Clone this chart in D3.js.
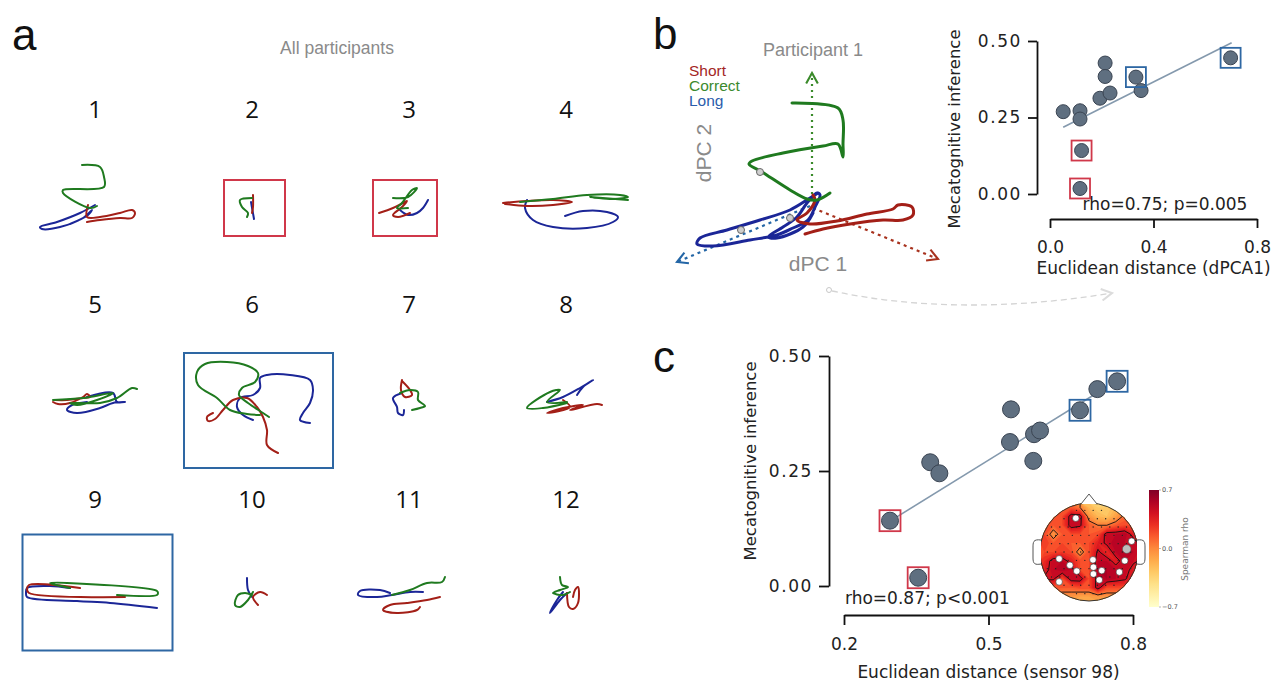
<!DOCTYPE html>
<html><head><meta charset="utf-8">
<script src="https://cdn.jsdelivr.net/npm/d3@7"></script>
<style>html,body{margin:0;padding:0;background:#fff;}svg{display:block;}</style>
</head><body>
<svg id="fig" width="1276" height="684"></svg>
<script>
// ================= DATA =================
const participants = [1,2,3,4,5,6,7,8,9,10,11,12];
const conditions = ["Short","Correct","Long"];
// Panel a: dPC1/dPC2 trajectories per participant
const shortTraj = [
  [[-7,0],[-8,-12],[5,-12],[25,-8],[37,-5],[40,-8],[37,-13],[25,-13],[5,-15],[-8,-17]],
  [[1,10],[1,-2],[0,-8]],
  [[-30,-8],[-16,-3],[-6,2],[-2,4],[-7,-2],[-16,-10],[-11,-12],[1,-8]],
  [[-63,2],[-39,4],[-13,5],[6,3],[-13,0],[-39,-1],[-61,1]],
  [[-42,-4],[-37,-6],[-25,-5],[-12,1],[-8,4],[-5,1],[-12,0],[-28,-2],[-40,-2]],
  [[-39,-15],[-45,-19],[-44,-23],[-37,-21],[-29,-12],[-19,-2],[-5,0],[5,-9],[11,-19],[15,-32],[15,-47],[26,-55]],
  [[-7,18],[-8,8],[-4,1],[3,3],[1,8],[-7,17]],
  [[-3,-2],[4,-9],[-19,-15],[-3,-10],[17,-7],[4,-12],[31,-6],[36,-7]],
  [[-15,5],[-66,8],[-68,4],[-66,0],[30,-4]],
  [[15,-2],[8,1],[1,-4],[6,-12]],
  [[31,-4],[18,-7],[-2,-10],[-19,-12],[-26,-17],[-12,-20],[8,-17],[11,-14]],
  [[1,0],[3,-14],[7,-16],[12,-10],[12,6],[9,3],[7,-4]]
];
const correctTraj = [
  [[-13,40],[5,38],[9,28],[9,18],[-32,15],[-32,12],[-5,-3],[2,-1]],
  [[0,7],[-12,5],[-10,-2],[-4,-8],[-5,-12]],
  [[-16,7],[-1,8],[8,17],[3,15],[-7,2],[-12,-3],[-1,-3]],
  [[-46,3],[-13,6],[21,10],[54,10],[62,8],[47,6],[24,8],[62,5]],
  [[-42,-2],[-12,0],[18,5],[2,-2],[-18,-7],[-25,-5],[5,-5],[22,0],[37,10],[42,9]],
  [[17,-19],[11,-15],[-4,-5],[-13,3],[-10,10],[3,16],[6,25],[-4,32],[-25,36],[-47,34],[-55,26],[-54,13],[-35,0],[-22,-12],[-5,-16],[8,-17]],
  [[-9,5],[1,8],[9,6],[9,-2],[16,-8],[11,-10],[3,-12]],
  [[1,-4],[-19,-4],[-6,8],[-16,6],[-39,-10],[-23,-10],[1,-5]],
  [[-25,5],[-45,10],[-28,10],[62,2],[63,0],[62,-2],[22,-2]],
  [[0,-2],[-7,0],[-14,-2],[-17,-12],[-12,-14],[-4,-7],[1,1]],
  [[-17,-2],[1,3],[18,10],[33,11],[36,16]],
  [[-6,16],[-4,8],[2,6],[-6,3],[-13,0],[-3,-2],[4,1]]
];
const longTraj = [
  [[0,0],[-15,-8],[-38,-17],[-55,-22],[-53,-24],[-35,-22],[-12,-13],[-3,-5],[-7,-10],[-25,-19]],
  [[-1,3],[2,-14]],
  [[-9,-5],[-1,-10],[8,-8],[14,-3],[19,5]],
  [[-39,5],[-41,-3],[-33,-15],[-13,-22],[21,-23],[47,-17],[52,-12],[41,-7],[17,-6],[-1,-11]],
  [[-8,1],[18,5],[22,-4],[30,-4],[18,-5],[5,-10],[-18,-15],[-28,-12],[-23,-7],[-8,-4]],
  [[1,-22],[-9,-17],[-15,-9],[-12,0],[1,3],[8,10],[8,20],[15,23],[38,23],[58,18],[61,8],[58,-5],[51,-15],[48,-22],[58,-25]],
  [[-7,5],[-16,0],[-12,-9],[-11,-15],[-6,-17],[-5,-12]],
  [[-19,-4],[-3,1],[14,10],[27,18],[17,11],[11,3]],
  [[-25,5],[-45,7],[-68,5],[-69,0],[-68,-4],[-18,-8],[15,-10],[62,-15]],
  [[-5,15],[-4,3],[0,-4]],
  [[14,1],[1,1],[-17,-2],[-32,-4],[-51,-2],[-49,2],[-29,3],[-19,0]],
  [[-3,1],[-9,-7],[-16,-20],[-6,-7],[1,0]]
];
const redFlagged = [2,3];
const blueFlagged = [6,9];

// Panel b (left): participant 1 trajectories
const p1Short = [[1,10],[3,5],[-5,-8],[-15,-15],[-2,-19],[25,-16],[55,-9],[81,-4],[86,0],[100,-2],[101,-10],[91,-15],[71,-15],[38,-19],[11,-24],[-7,-29]];
const p1Correct = [[18,12],[5,5],[-5,6],[-22,15],[-50,33],[-63,41],[-60,44],[-29,52],[11,59],[26,61],[31,48],[31,61],[31,85],[26,97],[-20,102]];
const p1Long = [[6,12],[-2,7],[-22,-5],[-52,-15],[-85,-25],[-112,-33],[-115,-39],[-99,-41],[-62,-35],[-35,-30],[-19,-23],[-4,-15],[3,-2],[8,10],[5,12],[-5,2],[-15,-12],[-29,-22],[-44,-32],[-35,-33],[-9,-22],[1,-8]];
const p1Markers = [[-52,33],[-22,-13],[-71,-25]];
const axisShort = [[1,-3],[126,-54]];
const axisCorrect = [[0,5],[0,132]];
const axisLong = [[-2,-1],[-135,-57]];

// Scatter data (per participant)
const metacog      = [0.269,0.018,0.142,0.272,0.245,0.382,0.313,0.428,0.445,0.384,0.330,0.338];
const distDPCA1    = [0.051,0.116,0.122,0.116,0.116,0.332,0.193,0.213,0.698,0.213,0.232,0.352];
const distSensor98 = [0.379,0.354,0.2955,0.593,0.398,0.690,0.5446,0.726,0.767,0.5467,0.5945,0.607];
const fitB = [[0.051,0.218],[0.702,0.494]];
const fitC = [[0.2955,0.141],[0.726,0.420]];
const statsB = "rho=0.75; p=0.005";
const statsC = "rho=0.87; p<0.001";
const ticksBx = [0,0.4,0.8], ticksBy = [0,0.25,0.5];
const ticksCx = [0.2,0.5,0.8], ticksCy = [0,0.25,0.5];

// Topomap (Spearman rho, rows front->back)
const topoGrid = [
  [0.10,0.10,0.10,0.15,0.05,-0.20,-0.30,-0.30,-0.20,-0.05,0.05],
  [0.15,0.20,0.20,0.50,0.50,-0.05,-0.20,-0.25,-0.10,0.10,0.15],
  [0.20,0.15,0.20,0.50,0.45,0.15,0.05,0.05,0.15,0.20,0.20],
  [0.20,-0.05,0.15,0.20,0.20,0.15,0.20,0.50,0.50,0.55,0.35],
  [0.25,0.15,0.20,0.15,0.15,0.20,0.35,0.45,0.55,0.50,0.50],
  [0.20,0.20,0.25,0.20,-0.05,0.20,0.45,0.30,0.50,0.55,0.50],
  [0.30,0.50,0.50,0.35,0.20,0.20,0.50,0.50,0.35,0.50,0.45],
  [0.35,0.50,0.55,0.50,0.20,0.20,0.55,0.55,0.50,0.50,0.35],
  [0.45,0.45,0.20,0.50,0.50,0.20,0.50,0.55,0.50,0.45,0.30],
  [0.20,0.20,0.15,0.15,0.20,0.20,0.50,0.20,0.20,0.20,0.15],
  [0.00,-0.05,-0.05,-0.05,-0.10,-0.10,-0.05,-0.05,-0.05,-0.05,0.00]
];
const sigSensors = [[-0.27,-0.69],[0.87,-0.22],[-0.61,0.14],[-0.39,0.27],[-0.25,0.39],[-0.61,0.61],[0.08,0.16],[0.09,0.31],[0.09,0.45],[0.26,0.38],[0.21,0.57],[0.62,0.41],[0.73,0.18]];
const markedSensor = [[0.77,-0.06]];
const contourLevels = [0.05,0.42];
const cbarTicks = [0.7,0.0,-0.7];

// ================= STYLE / LAYOUT =================
const RED="#a31f17", GREEN="#1f7a1f", BLUE="#1b2697";
const BOXRED="#d0384a", BOXBLUE="#2e67a3";
const SANS="'Liberation Sans', Arial, Helvetica, sans-serif";
const DV="'DejaVu Sans', sans-serif";
const OS="'Open Sans', sans-serif";
const colX=[95,252,409,566], rowY=[205,398,593], labelY=[118,313,508];
const boxes={2:[2.5,3,61,56],3:[-4,3,64,56],6:[6.5,12.5,149,115],9:[2.5,-0.5,150,116]};

const svg=d3.select("#fig");

// panel letters
[["a",12,50],["b",653,49],["c",653,372]].forEach(([t,x,y])=>{
  svg.append("text").attr("x",x).attr("y",y).text(t)
    .attr("font-family",SANS).attr("font-size",44).attr("fill","#111");
});

// ================= PANEL A =================
svg.append("text").attr("x",337).attr("y",54).attr("text-anchor","middle")
  .attr("font-family",SANS).attr("font-size",17.5).attr("fill","#8a8a8a").text("All participants");

const lineGen=(xs,ys,curve)=>d3.line().x(d=>xs(d[0])).y(d=>ys(d[1])).curve(curve||d3.curveCatmullRom.alpha(0.5));

participants.forEach((p,i)=>{
  const cx=colX[i%4], cy=rowY[Math.floor(i/4)];
  const xs=d3.scaleLinear().domain([-100,100]).range([cx-100,cx+100]);
  const ys=d3.scaleLinear().domain([-100,100]).range([cy+100,cy-100]);
  const g=svg.append("g");
  g.append("text").attr("x",cx).attr("y",labelY[Math.floor(i/4)]).attr("text-anchor","middle")
   .attr("font-family",OS).attr("font-size",24).attr("fill","#111").text(p);
  if(boxes[p]){
    const [dx,dy,w,h]=boxes[p];
    g.append("rect").attr("x",cx+dx-w/2).attr("y",cy+dy-h/2).attr("width",w).attr("height",h)
     .attr("fill","none").attr("stroke",redFlagged.includes(p)?BOXRED:BOXBLUE).attr("stroke-width",2);
  }
  [[longTraj[i],BLUE],[shortTraj[i],RED],[correctTraj[i],GREEN]].forEach(([pts,c])=>{
    g.append("path").datum(pts).attr("d",lineGen(xs,ys)).attr("fill","none").attr("stroke",c)
     .attr("stroke-width",2).attr("stroke-linejoin","round").attr("stroke-linecap","round");
  });
});

// ================= PANEL B (left) =================
const defs=svg.append("defs");
function arrowMarker(id,color){
  defs.append("marker").attr("id",id).attr("markerUnits","userSpaceOnUse")
   .attr("markerWidth",14).attr("markerHeight",14).attr("refX",9).attr("refY",5).attr("orient","auto")
   .attr("viewBox","-1 -1 12 12")
   .append("path").attr("d","M0,0 L9,5 L0,10").attr("fill","none").attr("stroke",color).attr("stroke-width",1.8);
}
arrowMarker("arG","#3a8a2a"); arrowMarker("arR","#a8321e"); arrowMarker("arB","#2466a6"); arrowMarker("arGray","#dcdcdc");

const bx=d3.scaleLinear().domain([-150,150]).range([812-150,812+150]);
const by=d3.scaleLinear().domain([-150,150]).range([205+150,205-150]);
svg.append("text").attr("x",813).attr("y",56).attr("text-anchor","middle")
  .attr("font-family",SANS).attr("font-size",18).attr("fill","#8a8a8a").text("Participant 1");
[["Short","#a3261f",76],["Correct","#3b8a2e",91],["Long","#2a5cab",105.5]].forEach(([t,c,y])=>{
  svg.append("text").attr("x",689).attr("y",y).attr("font-family",SANS).attr("font-size",15.5).attr("fill",c).text(t);
});
svg.append("text").attr("transform","translate(711,153) rotate(-90)").attr("text-anchor","middle")
  .attr("font-family",SANS).attr("font-size",21).attr("fill","#8a8a8a").text("dPC 2");
svg.append("text").attr("x",818).attr("y",271).attr("text-anchor","middle")
  .attr("font-family",SANS).attr("font-size",21).attr("fill","#8a8a8a").text("dPC 1");

const straight=d3.line().x(d=>bx(d[0])).y(d=>by(d[1]));
[[axisCorrect,"#3a8a2a","arG","2,4"],[axisShort,"#a8321e","arR","3,4"],[axisLong,"#2466a6","arB","3,4"]].forEach(([pts,c,m,da])=>{
  svg.append("path").datum(pts).attr("d",straight).attr("stroke",c).attr("stroke-width",2.2)
   .attr("stroke-dasharray",da).attr("fill","none").attr("marker-end",`url(#${m})`);
});
[[p1Long,BLUE],[p1Short,RED],[p1Correct,GREEN]].forEach(([pts,c])=>{
  svg.append("path").datum(pts).attr("d",lineGen(bx,by)).attr("fill","none").attr("stroke",c)
   .attr("stroke-width",3).attr("stroke-linejoin","round").attr("stroke-linecap","round");
});
svg.selectAll(".mk").data(p1Markers).join("circle").attr("cx",d=>bx(d[0])).attr("cy",d=>by(d[1])).attr("r",3.5)
  .attr("fill","#cfcfcf").attr("stroke","#666").attr("stroke-width",1);

// connector dashed curve
svg.append("circle").attr("cx",829).attr("cy",290).attr("r",2.5).attr("fill","#fff").attr("stroke","#c8c8c8");
svg.append("path").attr("d","M832,291 Q960,318 1112,293").attr("fill","none").attr("stroke","#d4d4d4")
  .attr("stroke-width",1.3).attr("stroke-dasharray","6,4").attr("marker-end","url(#arGray)");

// ================= SCATTER helper =================
function scatter(opt){
  const {xs,ys,xAxisY,yAxisX,xTicks,yTicks,xFmt,yFmt,xVals,fit,stats,statsPos,xTitle,xTitleY,yTitleX,yTitleY,r,box,tick}=opt;
  const g=svg.append("g");
  const ax=d3.axisLeft(ys).tickValues(yTicks).tickFormat(d3.format(yFmt)).tickSize(tick).tickSizeOuter(0).tickPadding(6);
  const ya=g.append("g").attr("transform",`translate(${yAxisX},0)`).call(ax);
  const bxax=d3.axisBottom(xs).tickValues(xTicks).tickFormat(d3.format(xFmt)).tickSize(tick).tickSizeOuter(0).tickPadding(13);
  const xa=g.append("g").attr("transform",`translate(0,${xAxisY})`).call(bxax);
  [ya,xa].forEach(a=>{
    a.select(".domain").attr("stroke","#111").attr("stroke-width",1.8);
    a.selectAll(".tick line").attr("stroke","#111").attr("stroke-width",1.8);
    a.selectAll(".tick text").attr("font-family",DV).attr("font-size",17).attr("fill","#222");
  });
  ya.selectAll(".tick text").attr("letter-spacing","1.6px");
  g.append("text").attr("x",d3.mean(xs.range())).attr("y",xTitleY).attr("text-anchor","middle")
   .attr("font-family",DV).attr("font-size",17).attr("fill","#222").text(xTitle);
  g.append("text").attr("transform",`translate(${yTitleX},${yTitleY}) rotate(-90)`).attr("text-anchor","middle")
   .attr("font-family",DV).attr("font-size",16.5).attr("fill","#222").text("Mecatognitive inference");
  g.append("path").datum(fit).attr("d",d3.line().x(d=>xs(d[0])).y(d=>ys(d[1])))
   .attr("stroke","#8499ad").attr("stroke-width",1.6).attr("fill","none");
  const pts=participants.map((p,i)=>({p,x:xVals[i],y:metacog[i]}));
  g.selectAll(".pt").data(pts).join("circle").attr("cx",d=>xs(d.x)).attr("cy",d=>ys(d.y)).attr("r",r)
   .attr("fill","#5f6f80").attr("stroke","#3a4452").attr("stroke-width",1);
  const flagged=pts.filter(d=>redFlagged.includes(d.p)||blueFlagged.includes(d.p));
  g.selectAll(".bx").data(flagged).join("rect").attr("x",d=>xs(d.x)-box/2).attr("y",d=>ys(d.y)-box/2)
   .attr("width",box).attr("height",box).attr("fill","none")
   .attr("stroke",d=>redFlagged.includes(d.p)?BOXRED:BOXBLUE).attr("stroke-width",1.8);
  g.append("text").attr("x",statsPos[0]).attr("y",statsPos[1]).attr("text-anchor",statsPos[2])
   .attr("font-family",DV).attr("font-size",17).attr("fill","#222").text(stats);
}

// ================= PANEL B (right) =================
scatter({
  xs:d3.scaleLinear().domain([0,0.8]).range([1050,1257]),
  ys:d3.scaleLinear().domain([0,0.5]).range([194,41]),
  xAxisY:219, yAxisX:1037, xTicks:ticksBx, yTicks:ticksBy, xFmt:".1f", yFmt:".2f",
  xVals:distDPCA1, fit:fitB, stats:statsB, statsPos:[1165,210,"middle"],
  xTitle:"Euclidean distance (dPCA1)", xTitleY:274, yTitleX:960, yTitleY:129, r:7, box:20, tick:9
});

// ================= PANEL C =================
scatter({
  xs:d3.scaleLinear().domain([0.2,0.8]).range([844,1133]),
  ys:d3.scaleLinear().domain([0,0.5]).range([586,356]),
  xAxisY:615, yAxisX:829, xTicks:ticksCx, yTicks:ticksCy, xFmt:".1f", yFmt:".2f",
  xVals:distSensor98, fit:fitC, stats:statsC, statsPos:[845,604,"start"],
  xTitle:"Euclidean distance (sensor 98)", xTitleY:678, yTitleX:756, yTitleY:461, r:8.5, box:21, tick:10
});

// ================= TOPOMAP =================
const hx=1089, hy=552, hr=49;
const tg=svg.append("g");
defs.append("clipPath").attr("id","headClip").append("circle").attr("cx",hx).attr("cy",hy).attr("r",hr);
const n=topoGrid[0].length, m=topoGrid.length;
const gx=d3.scaleLinear().domain([0,n]).range([hx-hr,hx+hr]);
const gy=d3.scaleLinear().domain([0,m]).range([hy-hr,hy+hr]);
const flat=topoGrid.flat();
const cmap=d3.scaleSequential(d3.interpolateYlOrRd).domain([-0.7,0.7]);
const proj=d3.geoPath(d3.geoTransform({point(x,y){this.stream.point(gx(x),gy(y));}}));
const fillLevels=d3.range(-0.7,0.701,0.05);
const cont=d3.contours().size([n,m]).thresholds(fillLevels)(flat);
const clipG=tg.append("g").attr("clip-path","url(#headClip)");
clipG.append("circle").attr("cx",hx).attr("cy",hy).attr("r",hr).attr("fill",cmap(d3.min(flat)));
clipG.selectAll(".cf").data(cont).join("path").attr("d",proj).attr("fill",d=>cmap(d.value+0.025)).attr("stroke","none");
const lines=d3.contours().size([n,m]).thresholds(contourLevels)(flat);
clipG.selectAll(".cl").data(lines).join("path").attr("d",proj).attr("fill","none").attr("stroke","#111").attr("stroke-width",0.9);
// sensor grid dots
const sensorSteps=d3.range(-5,6);
sensorSteps.forEach(a=>sensorSteps.forEach(b=>{
  const u=a*0.17+(b%2?0.085:0), v=b*0.17;
  if(u*u+v*v<0.86){
    clipG.append("circle").attr("cx",hx+u*hr).attr("cy",hy+v*hr).attr("r",0.7).attr("fill","#222");
  }
}));
const us=d3.scaleLinear().domain([-1,1]).range([hx-hr,hx+hr]);
const vs=d3.scaleLinear().domain([-1,1]).range([hy-hr,hy+hr]);
tg.selectAll(".sig").data(sigSensors).join("circle").attr("cx",d=>us(d[0])).attr("cy",d=>vs(d[1])).attr("r",3.3)
  .attr("fill","#fff").attr("stroke","#333").attr("stroke-width",0.6);
tg.selectAll(".mks").data(markedSensor).join("circle").attr("cx",d=>us(d[0])).attr("cy",d=>vs(d[1])).attr("r",4.3)
  .attr("fill","#bdbdbd").attr("stroke","#555").attr("stroke-width",0.6);
// head outline, nose, ears
tg.append("circle").attr("cx",hx).attr("cy",hy).attr("r",hr).attr("fill","none").attr("stroke","#333").attr("stroke-width",1);
tg.append("path").attr("d",`M${hx-8},${hy-hr+1} L${hx},${hy-hr-9} L${hx+8},${hy-hr+1}`).attr("fill","#fff").attr("stroke","#555").attr("stroke-width",1);
[[-1],[1]].forEach(([s])=>{
  const ex=hx+s*(hr+3);
  tg.append("path").attr("d",`M${hx+s*(hr-1)},${hy-12} C${ex+s*4},${hy-13} ${ex+s*4},${hy-10} ${ex+s*4},${hy-4} L${ex+s*4},${hy+6} C${ex+s*4},${hy+12} ${ex+s*2},${hy+13} ${hx+s*(hr-1)},${hy+12}`)
    .attr("fill","#fff").attr("stroke","#555").attr("stroke-width",1);
});
// colorbar
const grad=defs.append("linearGradient").attr("id","cbg").attr("x1",0).attr("y1",1).attr("x2",0).attr("y2",0);
d3.range(0,1.001,0.1).forEach(t=>grad.append("stop").attr("offset",t).attr("stop-color",d3.interpolateYlOrRd(t)));
const cbY=d3.scaleLinear().domain([-0.7,0.7]).range([607,490]);
svg.append("rect").attr("x",1149).attr("y",490).attr("width",10).attr("height",117).attr("fill","url(#cbg)");
cbarTicks.forEach(v=>{
  svg.append("line").attr("x1",1159).attr("x2",1161).attr("y1",cbY(v)).attr("y2",cbY(v)).attr("stroke","#888").attr("stroke-width",0.6);
  svg.append("text").attr("x",1162).attr("y",cbY(v)+2.2).attr("font-family",DV).attr("font-size",6.5).attr("fill","#555")
   .text(v===0?"0.0":(v<0?"\u2212":"")+Math.abs(v).toFixed(1));
});
svg.append("text").attr("transform","translate(1188,549) rotate(-90)").attr("text-anchor","middle")
  .attr("font-family",DV).attr("font-size",9).attr("fill","#777").text("Spearman rho");
</script>
</body></html>
